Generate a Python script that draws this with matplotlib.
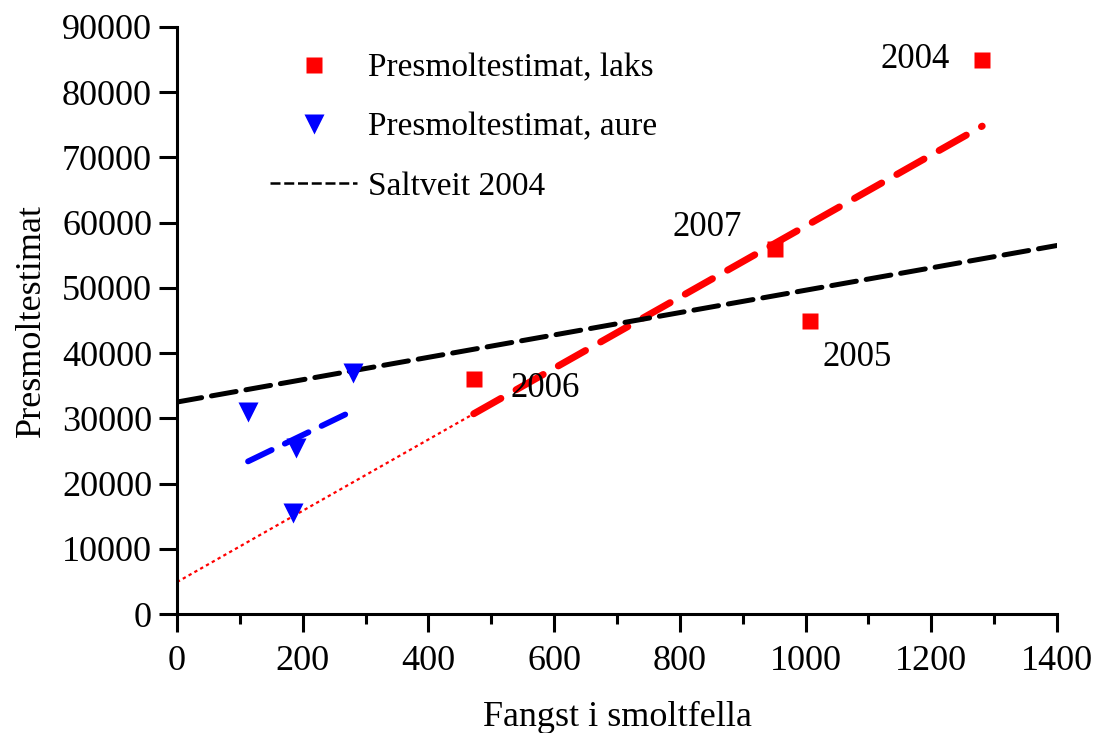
import matplotlib
matplotlib.use("Agg")
import matplotlib.pyplot as plt
from matplotlib.lines import Line2D
from matplotlib.ticker import MultipleLocator

plt.rcParams['font.family'] = ['Liberation Serif', 'DejaVu Serif']

# laks (salmon) presmolt estimates vs. smolt trap catch
laks_x = [1281, 951, 1007, 472]
laks_y = [85000, 56000, 45000, 36000]
laks_years = ['2004', '2007', '2005', '2006']

# aure (trout)
aure_x = [113, 189, 184, 280]
aure_y = [31000, 25500, 15500, 37000]

# fitted / reference lines (end points)
laks_fit_x = [472, 1281]
laks_fit_y = [30700, 74800]
laks_ext_x = [0, 472]
laks_ext_y = [4900, 30700]
aure_fit_x = [113, 270]
aure_fit_y = [23400, 30700]
saltveit_x = [0, 1400]
saltveit_y = [32500, 56500]

# label offsets in data units
label_dx = [-107, -107, 75, 113]
label_dy = [0, 3200, -5700, -1400]

fig = plt.figure(figsize=(10.94, 7.33), dpi=100)
ax = fig.add_axes([0.1618, 0.1623, 0.8044, 0.8009])

ax.plot(laks_ext_x, laks_ext_y, color='red', lw=1.6, ls=(0, (1.5, 1.5)), zorder=2)
ax.plot(laks_fit_x, laks_fit_y, color='red', lw=5, ls=(0, (4.5, 2.5)),
        dash_capstyle='round', zorder=2)
ax.plot(aure_fit_x, aure_fit_y, color='blue', lw=4.2, ls=(0, (4.5, 2.5)),
        dash_capstyle='round', zorder=2)
ax.plot(saltveit_x, saltveit_y, color='black', lw=3.6, ls=(0, (5, 2)),
        dash_capstyle='round', zorder=2)

ax.plot(laks_x, laks_y, 's', color='red', ms=12, mec='none', zorder=3)
ax.plot(aure_x, aure_y, 'v', color='blue', ms=14, mec='none', zorder=3)

for x, y, t, dx, dy in zip(laks_x, laks_y, laks_years, label_dx, label_dy):
    ax.text(x + dx, y + dy, t, fontsize=25, ha='center', va='center')

handles = [
    Line2D([], [], marker='s', color='red', ls='none', ms=12, mec='none'),
    Line2D([], [], marker='v', color='blue', ls='none', ms=14, mec='none'),
    Line2D([], [], color='black', lw=1.8, ls=(0, (4, 1.5))),
]
labels = ['Presmoltestimat, laks', 'Presmoltestimat, aure', 'Saltveit 2004']
ax.legend(handles, labels, loc='upper left', bbox_to_anchor=(0.106, 0.956),
          frameon=False, fontsize=24, handlelength=2.6, handletextpad=0.33,
          labelspacing=0.86, borderpad=0, borderaxespad=0)

ax.set_xlim(0, 1400)
ax.set_ylim(0, 90000)
ax.xaxis.set_major_locator(MultipleLocator(200))
ax.xaxis.set_minor_locator(MultipleLocator(100))
ax.yaxis.set_major_locator(MultipleLocator(10000))

for s in ['top', 'right']:
    ax.spines[s].set_visible(False)
for s in ['left', 'bottom']:
    ax.spines[s].set_linewidth(2.2)

ax.tick_params(axis='both', which='major', direction='out', length=13, width=2.2,
               labelsize=26, pad=5)
ax.tick_params(axis='x', which='minor', direction='out', length=7, width=2.2)
ax.tick_params(axis='x', which='major', pad=9)

ax.set_xlabel('Fangst i smoltfella', fontsize=26, labelpad=17)
ax.set_ylabel('Presmoltestimat', fontsize=26, labelpad=10)

fig.savefig('out.png', dpi=100)
